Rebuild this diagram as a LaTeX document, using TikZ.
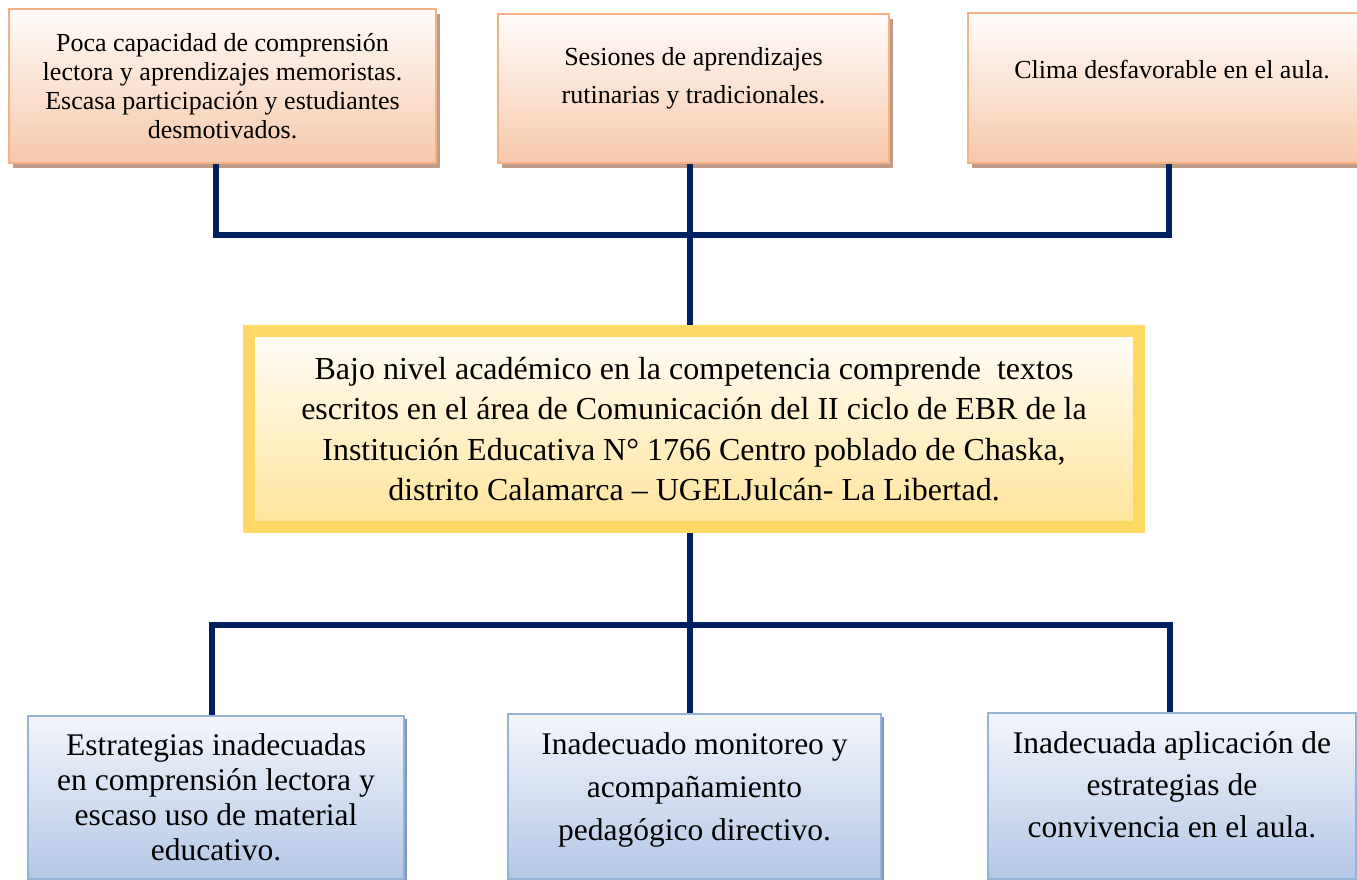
\documentclass[tikz,border=0pt]{standalone}
\usepackage{fontspec}
\setmainfont{Liberation Serif}
\usetikzlibrary{shadows}
\definecolor{navy}{HTML}{002060}
\definecolor{peachB}{HTML}{F4B183}
\definecolor{peachF}{HTML}{F6C8AA}
\definecolor{peachT}{HTML}{FFFCFA}
\definecolor{peachS}{HTML}{BF9C88}
\definecolor{goldB}{HTML}{FFD966}
\definecolor{goldF}{HTML}{FFE499}
\definecolor{goldT}{HTML}{FFFDF9}
\definecolor{goldS}{HTML}{C2B07F}
\definecolor{blueB}{HTML}{95B3D7}
\definecolor{blueF}{HTML}{B4C7E7}
\definecolor{blueT}{HTML}{F3F6FB}
\definecolor{blueS}{HTML}{8096BE}
\begin{document}
\begin{tikzpicture}[x=1pt,y=-1pt,
  topbox/.style={draw=peachB, line width=2pt, top color=peachT, bottom color=peachF,
    anchor=north west, align=center, inner sep=0pt,
    drop shadow={shadow xshift=4pt, shadow yshift=-5pt, fill=peachS, opacity=1}},
  mainbox/.style={draw=goldB, line width=12pt, top color=goldT, bottom color=goldF,
    anchor=north west, align=center, inner sep=0pt,
    font=\fontsize{32}{40.5}\selectfont,
    drop shadow={shadow xshift=4pt, shadow yshift=-6pt, fill=goldS, opacity=1}},
  botbox/.style={draw=blueB, line width=2pt, top color=blueT, bottom color=blueF,
    anchor=north west, align=center, inner sep=0pt,
    drop shadow={shadow xshift=3pt, shadow yshift=-3pt, fill=blueS, opacity=1}},
  conn/.style={draw=navy, line width=6pt}
]
\useasboundingbox (0,0) rectangle (1357,880);

% top boxes
\node[topbox, minimum width=427pt, minimum height=154pt,
  font=\fontsize{26}{29}\selectfont] (t1) at (8,8)
  {Poca capacidad de comprensión\\lectora y aprendizajes memoristas.\\Escasa participación y estudiantes\\desmotivados.};
\node[topbox, minimum width=391pt, minimum height=149pt,
  font=\fontsize{26}{38}\selectfont] (t2) at (497,13)
  {Sesiones de aprendizajes\\rutinarias y tradicionales.\rule[-27pt]{0pt}{0pt}};
\node[topbox, minimum width=408pt, minimum height=150pt,
  font=\fontsize{26}{29}\selectfont] (t3) at (967,12)
  {Clima desfavorable en el aula.\rule[-38pt]{0pt}{0pt}};

% main box
\node[mainbox, minimum width=890pt, minimum height=196pt] (m) at (243,325)
  {Bajo nivel académico en la competencia comprende~ textos\\escritos en el área de Comunicación del II ciclo de EBR de la\\Institución Educativa N° 1766 Centro poblado de Chaska,\\distrito Calamarca – UGELJulcán- La Libertad.};

% bottom boxes
\node[botbox, minimum width=376pt, minimum height=163pt,
  font=\fontsize{31.5}{35}\selectfont] (d1) at (27,715)
  {Estrategias inadecuadas\\en comprensión lectora y\\escaso uso de material\\educativo.};
\node[botbox, minimum width=373pt, minimum height=165pt,
  font=\fontsize{31.5}{43}\selectfont] (d2) at (507,713)
  {Inadecuado monitoreo y\\acompañamiento\\pedagógico directivo.\rule[-20pt]{0pt}{0pt}};
\node[botbox, minimum width=368pt, minimum height=166pt,
  font=\fontsize{31.5}{42}\selectfont] (d3) at (987,712)
  {Inadecuada aplicación de\\estrategias de\\convivencia en el aula.\rule[-22pt]{0pt}{0pt}};

% junction coordinates
\coordinate (h1) at (216,235);
\coordinate (h2) at (690,235);
\coordinate (h3) at (1169,235);
\coordinate (b1) at (212,625);
\coordinate (b2) at (690,625);
\coordinate (b3) at (1170,625);

% connectors
\draw[conn] (h1 |- t1.south) -- (h1) -- (h3) -- (h3 |- t3.south);
\draw[conn] (h2 |- t2.south) -- (h2) -- (h2 |- m.north);
\draw[conn] (b2 |- m.south) -- (b2);
\draw[conn] (b1 |- d1.north) -- (b1) -- (b3) -- (b3 |- d3.north);
\draw[conn] (b2) -- (b2 |- d2.north);
\end{tikzpicture}
\end{document}
